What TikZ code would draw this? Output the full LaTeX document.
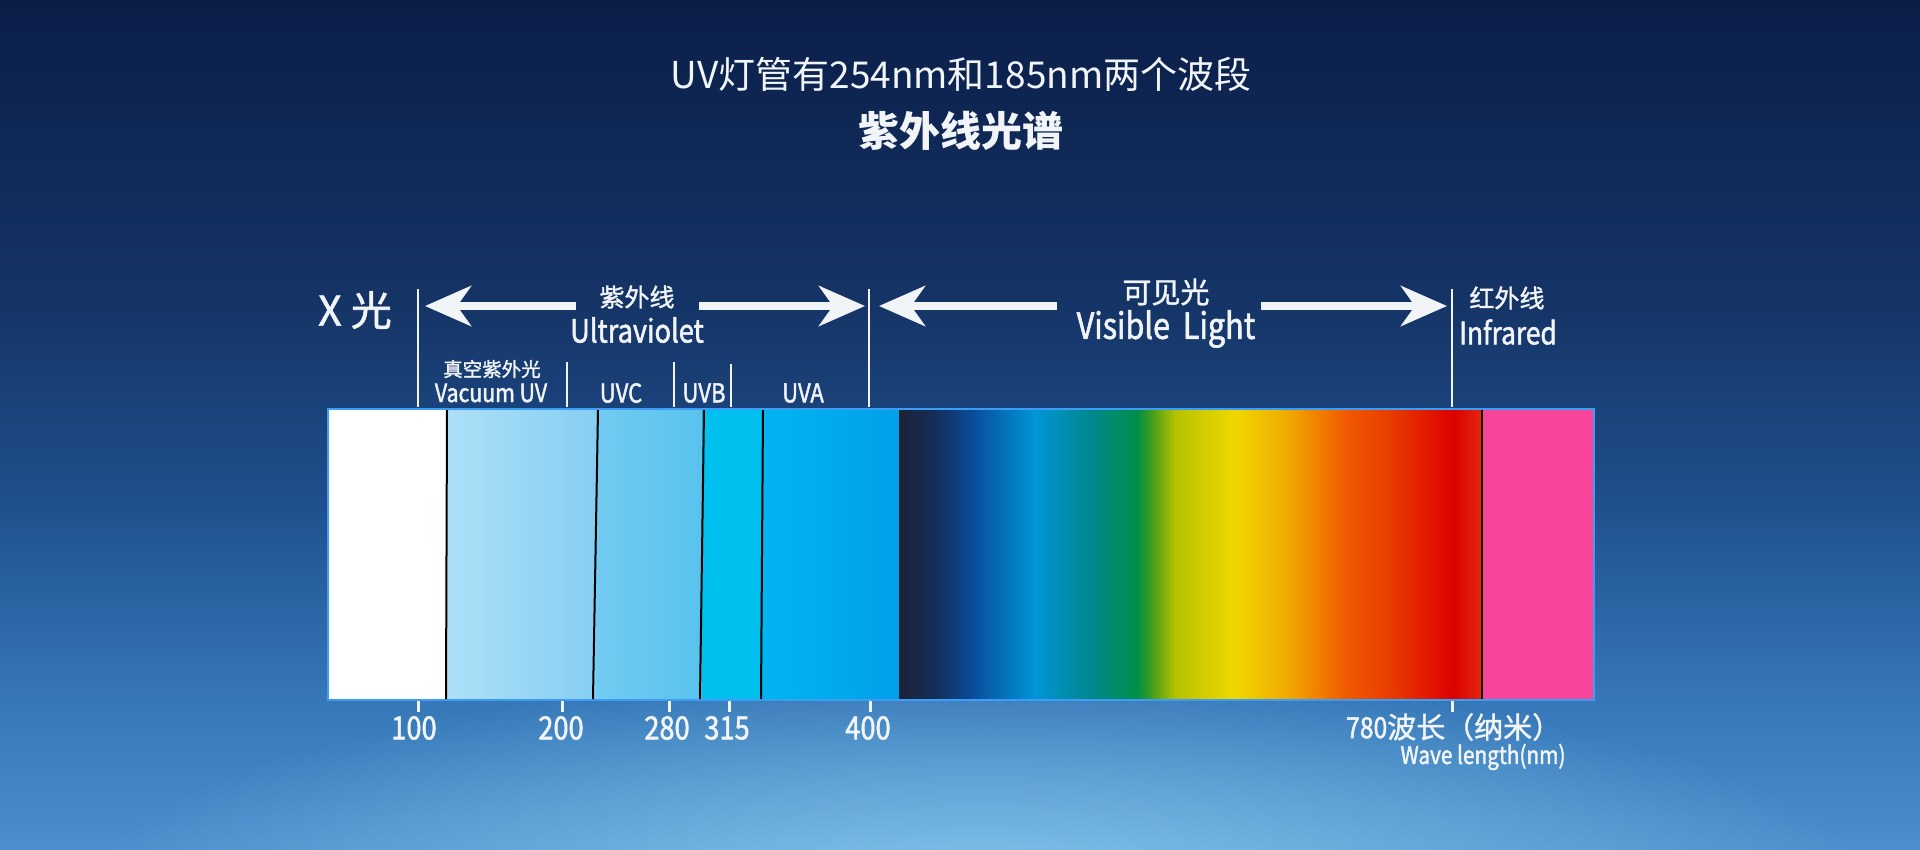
\documentclass[tikz,border=0pt]{standalone}
\usepackage{fontspec}
\setmainfont{Noto Sans CJK SC}
\newfontfamily\cjk{Noto Sans CJK SC}
\newfontfamily\cjkm{Noto Sans CJK SC}[FakeBold=1.4]
\newfontfamily\cond{Noto Sans CJK SC}[FakeStretch=0.85,FakeBold=1.6]
\usetikzlibrary{arrows.meta,fadings}
\definecolor{bgA}{HTML}{0B1E48}
\definecolor{bgB}{HTML}{153466}
\definecolor{bgC}{HTML}{1F4F8C}
\definecolor{bgD}{HTML}{3677B8}
\definecolor{bgE}{HTML}{4A90CC}
\definecolor{glowc}{HTML}{8ACDF0}
\definecolor{txt}{HTML}{F2F5F8}
\definecolor{edge}{HTML}{3D9DF5}
\definecolor{vuvL}{HTML}{AEE0F7}
\definecolor{vuvR}{HTML}{86CFF2}
\definecolor{uvcL}{HTML}{72CBF1}
\definecolor{uvcR}{HTML}{58C3EE}
\definecolor{uvb}{HTML}{00C0F0}
\definecolor{uvaL}{HTML}{00B5F1}
\definecolor{uvaR}{HTML}{00A0E8}
\definecolor{ir}{HTML}{F8449A}
\definecolor{va}{HTML}{1A2236}
\definecolor{vb}{HTML}{142E5A}
\definecolor{vc}{HTML}{0A4D9C}
\definecolor{vd}{HTML}{0096D8}
\definecolor{ve}{HTML}{00878F}
\definecolor{vf}{HTML}{008F48}
\definecolor{vg}{HTML}{4A9E1A}
\definecolor{vh}{HTML}{B5C200}
\definecolor{vi}{HTML}{F0D800}
\definecolor{vj}{HTML}{F0A600}
\definecolor{vk}{HTML}{F15A00}
\definecolor{vl}{HTML}{E83A00}
\definecolor{vm}{HTML}{DC0000}
\definecolor{vn}{HTML}{E42810}
\pgfdeclareverticalshading{bgshade}{100bp}{color(0bp)=(bgE); color(25bp)=(bgE); color(33.8bp)=(bgD); color(45.6bp)=(bgC); color(57.3bp)=(bgB); color(75bp)=(bgA); color(100bp)=(bgA)}
\tikzfading[name=softglow, inner color=transparent!10, outer color=transparent!100]
\tikzset{
  lab/.style={text=txt, inner sep=0pt, anchor=center},
  bigarrow/.style={draw=txt, line width=8pt, -{Stealth[length=46pt,width=40pt,inset=14pt]}},
  vline/.style={draw=txt, line width=2pt},
  tick/.style={draw=txt, line width=3pt},
  sep/.style={draw=black, line width=2pt}
}
\begin{document}
\begin{tikzpicture}[x=1pt,y=-1pt]
\useasboundingbox (0,0) rectangle (1920,849);
% background
\shade[shading=bgshade] (0,0) rectangle (1920,849);
\fill[glowc, path fading=softglow] (980,900) ellipse [x radius=900, y radius=230];

% titles
\node[lab, font=\cjk\fontsize{37}{40}\selectfont] (t1) at (961,74) {UV灯管有254nm和185nm两个波段};
\node[lab, font=\cjk\bfseries\fontsize{41}{43}\selectfont] (t2) at (961,131) {紫外线光谱};

% spectrum bar
\fill[white] (328,409) rectangle (447,700);
\shade[left color=vuvL, right color=vuvR] (446,409) rectangle (597,700);
\shade[left color=uvcL, right color=uvcR] (596,409) rectangle (703,700);
\fill[uvb] (702,409) rectangle (763,700);
\shade[left color=uvaL, right color=uvaR] (762,409) rectangle (900,700);
\foreach \xa/\ca/\xb/\cb in {899/va/935/vb, 935/vb/973/vc, 973/vc/1034/vd, 1034/vd/1089/ve, 1089/ve/1137/vf, 1137/vf/1152/vg, 1152/vg/1175/vh, 1175/vh/1234/vi, 1234/vi/1290/vj, 1290/vj/1345/vk, 1345/vk/1392/vl, 1392/vl/1453/vm, 1453/vm/1482/vn}
  \shade[left color=\ca, right color=\cb] (\xa,409) rectangle (\xb+0.8,700);
\fill[ir] (1482,409) rectangle (1594,700);
\draw[edge, line width=1.5pt] (328,409) rectangle (1594,700);
% separators
\draw[sep] (447,410) -- (446,699);
\draw[sep] (598,410) -- (593,699);
\draw[sep] (704,410) -- (700,699);
\draw[sep] (763,410) -- (761,699);
\draw[draw=va, line width=2pt] (900,410) -- (900,699);
\draw[sep] (1482,410) -- (1482,699);

% vertical range lines
\coordinate (lx1t) at (418,289); \coordinate (lx1b) at (418,407);
\coordinate (lx2t) at (869,289); \coordinate (lx2b) at (869,407);
\coordinate (lx3t) at (1452,289); \coordinate (lx3b) at (1452,407);
\draw[vline] (lx1t) -- (lx1b);
\draw[vline] (lx2t) -- (lx2b);
\draw[vline] (lx3t) -- (lx3b);
\coordinate (s1t) at (567,362); \coordinate (s1b) at (567,407);
\coordinate (s2t) at (674,362); \coordinate (s2b) at (674,407);
\coordinate (s3t) at (731,364); \coordinate (s3b) at (731,407);
\draw[vline] (s1t) -- (s1b);
\draw[vline] (s2t) -- (s2b);
\draw[vline] (s3t) -- (s3b);

% bottom ticks
\foreach \x in {418,562,669,729,870,1452}
  \draw[tick] (\x,701) -- (\x,712);

% arrows
\coordinate (uvLtail) at (576,306); \coordinate (uvLtip) at (425,306);
\coordinate (uvRtail) at (699,306); \coordinate (uvRtip) at (865,306);
\coordinate (viLtail) at (1057,306); \coordinate (viLtip) at (879,306);
\coordinate (viRtail) at (1261,306); \coordinate (viRtip) at (1447,306);
\draw[bigarrow] (uvLtail) -- (uvLtip);
\draw[bigarrow] (uvRtail) -- (uvRtip);
\draw[bigarrow] (viLtail) -- (viLtip);
\draw[bigarrow] (viRtail) -- (viRtip);

% range labels
\node[lab, font=\cjkm\fontsize{41}{43}\selectfont] (xray) at (355,310) {X 光};
\node[lab, font=\cjkm\fontsize{25}{27}\selectfont] (uvcn) at (637,297) {紫外线};
\node[lab, font=\cond\fontsize{32}{34}\selectfont] (uven) at (637,330) {Ultraviolet};
\node[lab, font=\cjkm\fontsize{29}{31}\selectfont] (vicn) at (1166,292) {可见光};
\node[lab, font=\cond\fontsize{36}{38}\selectfont] (vien) at (1166,329) {Visible\, Light};
\node[lab, font=\cjkm\fontsize{25}{27}\selectfont] (ircn) at (1507,298) {红外线};
\node[lab, font=\cond\fontsize{31}{33}\selectfont] (iren) at (1508,332) {Infrared};

% band labels
\node[lab, font=\cjkm\fontsize{19.5}{21}\selectfont] (vuvcn) at (492,369) {真空紫外光};
\node[lab, font=\cond\fontsize{25}{27}\selectfont] (vuven) at (491,393) {Vacuum UV};
\node[lab, font=\cond\fontsize{26}{28}\selectfont] (uvc) at (621,393) {UVC};
\node[lab, font=\cond\fontsize{26}{28}\selectfont] (uvbl) at (704,393) {UVB};
\node[lab, font=\cond\fontsize{26}{28}\selectfont] (uva) at (803,393) {UVA};

% numbers
\node[lab, font=\cond\fontsize{32}{34}\selectfont] (n100) at (414,728) {100};
\node[lab, font=\cond\fontsize{32}{34}\selectfont] (n200) at (561,728) {200};
\node[lab, font=\cond\fontsize{32}{34}\selectfont] (n280) at (667,728) {280};
\node[lab, font=\cond\fontsize{32}{34}\selectfont] (n315) at (727,728) {315};
\node[lab, font=\cond\fontsize{32}{34}\selectfont] (n400) at (868,728) {400};
\node[lab, anchor=west, font=\cond\fontsize{29}{31}\selectfont] (n780) at (1346,727) {780\cjkm 波长（纳米）};
\node[lab, font=\cond\fontsize{24.5}{26}\selectfont] (wl) at (1483,757) {Wave length(nm)};
\end{tikzpicture}
\end{document}
